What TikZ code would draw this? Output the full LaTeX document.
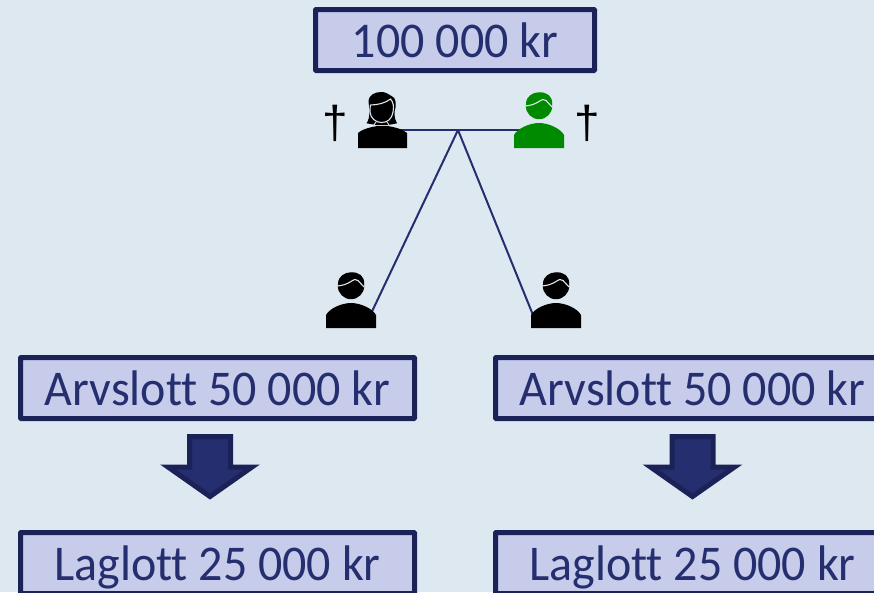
\documentclass[tikz,border=0pt]{standalone}
\usepackage{fontspec}
\setmainfont[FakeStretch=0.96,Ligatures=CommonOff]{Carlito}
\newfontfamily\crossfont{Liberation Sans}
\definecolor{bg}{HTML}{DEE8F1}
\definecolor{boxfill}{HTML}{C6CCEA}
\definecolor{edge}{HTML}{1B2257}
\definecolor{ink}{HTML}{252E6E}
\definecolor{gren}{HTML}{008A00}
\tikzset{
  x=1pt,y=-1pt,
  money/.style={draw=edge,fill=boxfill,line width=5pt,text=ink,rounded corners=0.6pt,
    minimum width=394pt,minimum height=61pt,inner sep=0pt,font=\fontsize{50}{54}\selectfont,text height=34pt,text depth=0pt},
  link/.style={draw=ink,line width=2pt},
  cross/.style={inner sep=0pt,font=\crossfont\fontsize{46}{50}\selectfont,text=black},
  pics/man/.style={code={
    \fill[#1] (-25,0) -- (-25,-13) .. controls (-22,-19) and (-10,-25) .. (0,-25) .. controls (10,-25) and (22,-19) .. (25,-13) -- (25,0) -- cycle;
    \fill[#1] (0,-42) circle[radius=13.2];
    \fill[#1] (-13,-44) .. controls (-13,-52) and (-6,-55.7) .. (0,-55.7) .. controls (8,-56) and (13.5,-52) .. (13.2,-44) -- cycle;
    \draw[bg,line width=1.1pt] (-14,-42) .. controls (-8,-42.5) and (-4,-44) .. (0,-46.5) .. controls (3,-48.5) and (5,-49.5) .. (7,-47.5) -- (13,-41);
  }},
  pics/woman/.style={code={
    \fill[black] (-24.5,0) -- (-24.5,-15) .. controls (-21,-18.5) and (-12,-21) .. (-5,-22) -- (5,-22) .. controls (12,-21) and (21,-18.5) .. (24.5,-15) -- (24.5,0) -- cycle;
    \fill[black] (-16,-24.7) .. controls (-12,-30) and (-13,-40) .. (-14,-46) .. controls (-14,-53) and (-8,-56) .. (-1,-56) .. controls (3,-56) and (6,-54) .. (9,-52) .. controls (14,-51) and (14,-42) .. (12,-36) .. controls (12,-30) and (13,-27) .. (14.5,-24.7) -- (6,-23) -- (-6,-23) -- cycle;
    \fill[black] (-1,-35) circle[radius=11.5];
    \draw[bg,line width=1.1pt] (-12,-43) .. controls (-5,-43) and (3,-45) .. (8,-49) .. controls (11,-46) and (11.5,-41) .. (10.5,-36) .. controls (9.5,-29) and (5,-25.5) .. (-1,-25.5) .. controls (-7,-25.5) and (-12,-30) .. (-12.5,-36) .. controls (-12.5,-39) and (-12.5,-41) .. (-12,-43);
    \draw[bg,line width=0.9pt] (-6.5,-26) -- (-9,-22.5) (4.5,-26) -- (7,-22.5);
  }},
  pics/blockarrow/.style={code={
    \path[fill=ink,draw=edge,line width=5pt,miter limit=10,line join=miter]
      (-20.5,-63.5) -- (20.5,-63.5) -- (20.5,-33) -- (42,-33) -- (0,-3.5) -- (-42,-33) -- (-20.5,-33) -- cycle;
  }},
}
\begin{document}
\begin{tikzpicture}
\useasboundingbox (0,0) rectangle (874,592);
\clip (0,0) rectangle (874,592);
\fill[bg] (0,0) rectangle (874,592);
% anchors of the figures
\coordinate (mother) at (382.5,148);
\coordinate (father) at (539,148);
\coordinate (childL) at (351,328);
\coordinate (childR) at (556,328);
\coordinate (mid) at (458,130);
\coordinate (handL) at (372,311.5);
\coordinate (handR) at (533,315);
% connectors
\draw[link] (mother |- mid) -- (father |- mid);
\draw[link] (mid) -- (handL);
\draw[link] (mid) -- (handR);
% figures
\pic at (mother) {woman};
\pic at (father) {man=gren};
\pic at (childL) {man=black};
\pic at (childR) {man=black};
% crosses
\node[cross] (crossL) at (335,123) {†};
\node[cross] (crossR) at (587,123) {†};
% boxes
\node[money,minimum width=279pt] (total) at (455,40) {100 000 kr};
\node[money] (arvL) at (217.5,388) {Arvslott 50 000 kr};
\node[money] (arvR) at (692.5,388) {Arvslott 50 000 kr};
\node[money] (lagL) at (217.5,563) {Laglott 25 000 kr};
\node[money] (lagR) at (692.5,563) {Laglott 25 000 kr};
% block arrows
\pic at (210,500) {blockarrow};
\pic at (692.5,500) {blockarrow};
\end{tikzpicture}
\end{document}
